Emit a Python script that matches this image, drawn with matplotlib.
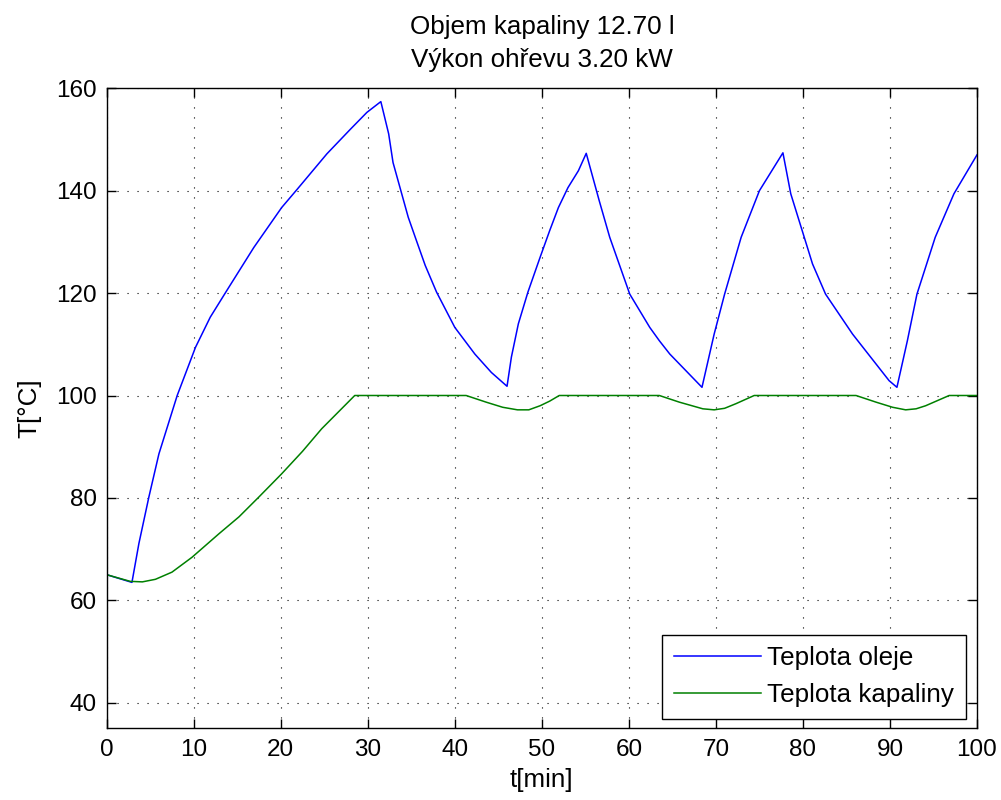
import matplotlib
matplotlib.use("Agg")
import matplotlib.pyplot as plt

# Oil temperature (blue)
t_oil = [0, 2.9, 3.7, 4.85, 6.0, 8.1, 10.2, 11.9, 13.8, 16.9, 20.1, 21.9, 25.3, 28.0, 29.9, 31.5,
         32.4, 32.9, 33.8, 34.65, 35.6, 36.6, 37.9, 40.0, 42.3, 44.2, 46.0,
         46.5, 47.3, 48.4, 49.8, 50.9, 51.9, 53.0, 54.2, 55.1,
         56.6, 57.8, 60.1, 62.4, 63.5, 64.7, 68.4,
         69.8, 71.0, 72.9, 75.0, 77.7,
         78.6, 81.1, 82.6, 85.7, 89.9, 90.8,
         92.0, 93.1, 95.2, 97.35, 100]
T_oil = [65.0, 63.5, 71.1, 80.2, 88.6, 100, 109.4, 115.3, 120.5, 128.9, 136.7, 140.3, 147.2, 152.0, 155.3, 157.4,
         151.1, 145.5, 140, 134.8, 130.2, 125.4, 120.2, 113.3, 108.1, 104.5, 101.8,
         107.5, 114, 120.2, 127, 132.2, 136.7, 140.6, 143.9, 147.3,
         138, 130.9, 119.8, 113.3, 110.7, 108.1, 101.6,
         112, 119.8, 130.9, 140, 147.4,
         139.4, 125.7, 119.8, 112, 102.9, 101.6,
         110.7, 119.8, 130.9, 139.4, 147.0]

# Liquid temperature (green)
t_liq = [0, 2.7, 4.1, 5.6, 7.5, 9.8, 12.9, 15.2, 17.5, 20.1, 22.5, 24.7, 28.5,
         41.3, 43.6, 45.5, 47.2, 48.5, 49.8, 50.9, 52.0,
         63.5, 65.8, 68.5, 69.8, 71.0, 72.3, 74.4,
         86.1, 88.4, 90.3, 91.8, 93.0, 94.1, 96.8, 100]
T_liq = [65.0, 63.7, 63.6, 64.1, 65.5, 68.4, 73.0, 76.3, 80.2, 84.7, 89.1, 93.5, 100,
         100, 98.7, 97.7, 97.2, 97.2, 98.0, 98.9, 100,
         100, 98.7, 97.4, 97.2, 97.5, 98.4, 100,
         100, 98.7, 97.7, 97.2, 97.4, 98.0, 100, 100]

x_ticks = [0, 10, 20, 30, 40, 50, 60, 70, 80, 90, 100]
y_ticks = [40, 60, 80, 100, 120, 140, 160]
labels = ["Teplota oleje", "Teplota kapaliny"]
title = "Objem kapaliny 12.70 l\nVýkon ohřevu 3.20 kW"

plt.rcParams['font.family'] = ['Liberation Sans', 'DejaVu Sans']
fs_tick = 17.5
fs_text = 18.7

fig = plt.figure(figsize=(10.01, 8.0), dpi=100)
fig.patch.set_facecolor('white')
ax = fig.add_axes([106.7 / 1001, (800 - 728.3) / 800, (977 - 106.7) / 1001, (728.3 - 88.3) / 800])

ax.plot(t_oil, T_oil, color=(0, 0, 1), lw=1.1, label=labels[0])
ax.plot(t_liq, T_liq, color=(0, 0.5, 0), lw=1.1, label=labels[1])

ax.set_xlim(0, 100)
ax.set_ylim(35, 160)
ax.set_xticks(x_ticks)
ax.set_yticks(y_ticks)
ax.tick_params(direction='in', length=6.5, width=1.0, top=True, right=True,
               labelsize=fs_tick, colors='black')
ax.tick_params(axis='x', pad=8)
ax.tick_params(axis='y', pad=7)
for s in ax.spines.values():
    s.set_linewidth(1.0)
    s.set_color('black')
ax.grid(True, color='black', linestyle=(0, (1.0, 8.0)), linewidth=0.8)

ax.set_xlabel("t[min]", fontsize=fs_text, labelpad=5)
ax.set_ylabel("T[°C]", fontsize=fs_text, labelpad=11)
ax.set_title(title, fontsize=fs_text, pad=15, linespacing=1.5)

leg = ax.legend(loc='lower right', bbox_to_anchor=(0.987, 0.0145), borderaxespad=0,
                fontsize=fs_text, fancybox=False, framealpha=1, edgecolor='black',
                handlelength=3.35, handletextpad=0.25, borderpad=0.45, labelspacing=0.5)
leg.get_frame().set_linewidth(1.0)

fig.savefig("out.png", dpi=100, facecolor='white')
